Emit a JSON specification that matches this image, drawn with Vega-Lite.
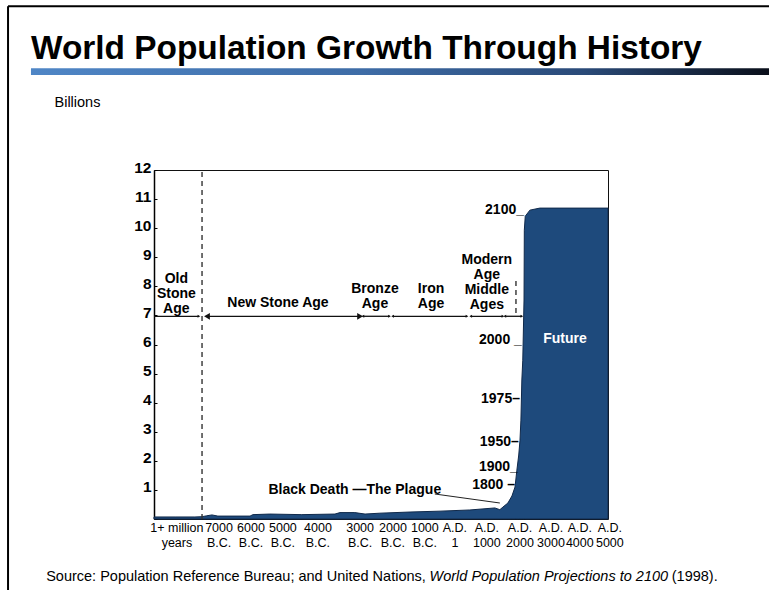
{
  "$schema": "https://vega.github.io/schema/vega-lite/v6.json",
  "width": 454,
  "height": 349,
  "autosize": {"type": "none"},
  "padding": {"left": 154, "top": 170, "right": 161, "bottom": 71},
  "background": "white",
  "title": {
    "text": "World Population Growth Through History",
    "anchor": "start",
    "frame": "group",
    "dx": -123,
    "offset": -87,
    "baseline": "alphabetic",
    "font": "Liberation Sans",
    "fontSize": 33.4,
    "fontWeight": "bold",
    "color": "#000000"
  },
  "config": {
    "view": {"stroke": "#111111", "strokeWidth": 1},
    "text": {"font": "Liberation Sans"},
    "axisY": {
      "tickCount": 12,
      "labelExpr": "datum.value == 0 ? '' : datum.label",
      "titleAngle": 0, "titleAlign": "left", "titleBaseline": "middle",
      "titleX": -100, "titleY": -68,
      "titleFont": "Liberation Sans", "titleFontSize": 14.5, "titleFontWeight": "normal", "titleColor": "#000000",
      "labelFont": "Liberation Sans", "labelFontSize": 15.5, "labelFontWeight": "bold", "labelColor": "#000000",
      "labelOverlap": false, "labelFlush": false, "labelBound": false,
      "labelPadding": 6, "labelBaseline": "middle", "labelOffset": -3,
      "tickSize": -3, "tickColor": "#000000",
      "domainColor": "#000000", "domainWidth": 1.5,
      "grid": false
    }
  },
  "datasets": {
    "population": [
      {"t": 0, "v": 0.07}, {"t": 0.68, "v": 0.07}, {"t": 1.32, "v": 0.07}, {"t": 1.55, "v": 0.08},
      {"t": 1.7, "v": 0.11}, {"t": 1.87, "v": 0.14}, {"t": 2.06, "v": 0.1}, {"t": 3.1, "v": 0.1},
      {"t": 3.19, "v": 0.15}, {"t": 3.74, "v": 0.17}, {"t": 4.77, "v": 0.15}, {"t": 5.84, "v": 0.17},
      {"t": 6.0, "v": 0.22}, {"t": 6.48, "v": 0.22}, {"t": 6.81, "v": 0.17}, {"t": 7.29, "v": 0.2},
      {"t": 8.26, "v": 0.24}, {"t": 9.23, "v": 0.27}, {"t": 10.19, "v": 0.31}, {"t": 11.0, "v": 0.38},
      {"t": 11.16, "v": 0.32}, {"t": 11.26, "v": 0.41}, {"t": 11.42, "v": 0.55}, {"t": 11.55, "v": 0.79},
      {"t": 11.65, "v": 1.1}, {"t": 11.71, "v": 1.68}, {"t": 11.77, "v": 2.2}, {"t": 11.81, "v": 2.71},
      {"t": 11.84, "v": 3.4}, {"t": 11.87, "v": 4.78}, {"t": 11.9, "v": 5.46}, {"t": 11.94, "v": 7.53},
      {"t": 11.95, "v": 9.93}, {"t": 11.98, "v": 10.41}, {"t": 12.13, "v": 10.62}, {"t": 12.45, "v": 10.69},
      {"t": 14.65, "v": 10.69}
    ],
    "eraTicks": [
      {"t": 0.74, "label": "1+ million\nyears"},
      {"t": 2.1, "label": "7000\nB.C."},
      {"t": 3.13, "label": "6000\nB.C."},
      {"t": 4.16, "label": "5000\nB.C."},
      {"t": 5.29, "label": "4000\nB.C."},
      {"t": 6.65, "label": "3000\nB.C."},
      {"t": 7.71, "label": "2000\nB.C."},
      {"t": 8.74, "label": "1000\nB.C."},
      {"t": 9.71, "label": "A.D.\n1"},
      {"t": 10.74, "label": "A.D.\n1000"},
      {"t": 11.81, "label": "A.D.\n2000"},
      {"t": 12.81, "label": "A.D.\n3000"},
      {"t": 13.74, "label": "A.D.\n4000"},
      {"t": 14.71, "label": "A.D.\n5000"}
    ],
    "ages": [
      {"age": "Old\nStone\nAge", "t": 0.72, "v": 8.24},
      {"age": "New Stone Age", "t": 4.0, "v": 7.42},
      {"age": "Bronze\nAge", "t": 7.13, "v": 7.9},
      {"age": "Iron\nAge", "t": 8.94, "v": 7.9},
      {"age": "Modern\nAge\nMiddle\nAges", "t": 10.74, "v": 8.92}
    ],
    "spans": [
      {"age": "Old Stone Age", "start": 0, "end": 1.45, "kind": "minor"},
      {"age": "New Stone Age", "start": 1.71, "end": 6.65, "kind": "major"},
      {"age": "Bronze Age", "start": 6.74, "end": 7.6, "kind": "minor"},
      {"age": "Iron Age", "start": 7.7, "end": 10.1, "kind": "minor"},
      {"age": "Middle Ages", "start": 10.22, "end": 11.26, "kind": "minor"},
      {"age": "Modern Age", "start": 11.32, "end": 11.87, "kind": "minor"}
    ],
    "dividers": [
      {"t": 1.55, "v0": 0, "v1": 12},
      {"t": 11.68, "v0": 7.08, "v1": 8.32}
    ],
    "years": [
      {"year": "2100_", "t": 11.94, "v": 10.62},
      {"year": "2000 _", "t": 11.87, "v": 6.15},
      {"year": "1975–", "t": 11.81, "v": 4.12},
      {"year": "1950–", "t": 11.77, "v": 2.65},
      {"year": "1900_", "t": 11.74, "v": 1.79},
      {"year": "1800 –", "t": 11.65, "v": 1.17}
    ]
  },
  "layer": [
    {
      "data": {"values": [{"t0": -3.97, "t1": 19.85, "v0": 15.27, "v1": 15.5}]},
      "mark": {
        "type": "rect",
        "fill": {
          "gradient": "linear",
          "x1": 0, "x2": 1, "y1": 0, "y2": 0,
          "stops": [
            {"offset": 0, "color": "#4f86c6"},
            {"offset": 0.45, "color": "#3e6ca6"},
            {"offset": 0.75, "color": "#2a4a78"},
            {"offset": 1, "color": "#0a0f1a"}
          ]
        }
      },
      "encoding": {
        "x": {"field": "t0", "type": "quantitative", "scale": {"domain": [0, 14.65], "nice": false, "zero": false}, "axis": null},
        "x2": {"field": "t1"},
        "y": {"field": "v0", "type": "quantitative", "scale": {"domain": [0, 12], "nice": false}, "title": "Billions"},
        "y2": {"field": "v1"}
      }
    },
    {
      "data": {"values": [
        {"t0": -4.71, "t1": -4.71, "v0": -3, "v1": 17.63},
        {"t0": -4.71, "t1": 20, "v0": 17.63, "v1": 17.63}
      ]},
      "mark": {"type": "rule", "color": "#000000", "strokeWidth": 2},
      "encoding": {
        "x": {"field": "t0", "type": "quantitative", "scale": {"domain": [0, 14.65], "nice": false, "zero": false}, "axis": null},
        "x2": {"field": "t1"},
        "y": {"field": "v0", "type": "quantitative", "scale": {"domain": [0, 12], "nice": false}, "title": "Billions"},
        "y2": {"field": "v1"}
      }
    },
    {
      "data": {"name": "population"},
      "mark": {"type": "area", "color": "#1e4a7c", "stroke": "#10294a", "strokeWidth": 1, "interpolate": "linear"},
      "encoding": {
        "x": {"field": "t", "type": "quantitative", "scale": {"domain": [0, 14.65], "nice": false, "zero": false}, "axis": null},
        "y": {"field": "v", "type": "quantitative", "scale": {"domain": [0, 12], "nice": false}, "title": "Billions"}
      }
    },
    {
      "data": {"name": "dividers"},
      "mark": {"type": "rule", "color": "#333333", "strokeWidth": 1.4, "strokeDash": [5, 4]},
      "encoding": {
        "x": {"field": "t", "type": "quantitative", "scale": {"domain": [0, 14.65], "nice": false, "zero": false}, "axis": null},
        "y": {"field": "v0", "type": "quantitative", "scale": {"domain": [0, 12], "nice": false}, "title": "Billions"},
        "y2": {"field": "v1"}
      }
    },
    {
      "data": {"name": "spans"},
      "mark": {"type": "rule", "color": "#111111", "strokeWidth": 1.3},
      "encoding": {
        "x": {"field": "start", "type": "quantitative", "scale": {"domain": [0, 14.65], "nice": false, "zero": false}, "axis": null},
        "x2": {"field": "end"},
        "y": {"datum": 6.97, "type": "quantitative", "scale": {"domain": [0, 12], "nice": false}, "title": "Billions"}
      }
    },
    {
      "data": {"name": "spans"},
      "mark": {"type": "point", "shape": "triangle-right", "filled": true, "color": "#111111", "opacity": 1},
      "encoding": {
        "x": {"field": "end", "type": "quantitative", "scale": {"domain": [0, 14.65], "nice": false, "zero": false}, "axis": null},
        "y": {"datum": 6.97, "type": "quantitative", "scale": {"domain": [0, 12], "nice": false}, "title": "Billions"},
        "size": {"field": "kind", "type": "nominal", "scale": {"domain": ["major", "minor"], "range": [45, 10]}, "legend": null}
      }
    },
    {
      "data": {"name": "spans"},
      "transform": [{"filter": "datum.start > 0"}],
      "mark": {"type": "point", "shape": "triangle-left", "filled": true, "color": "#111111", "opacity": 1},
      "encoding": {
        "x": {"field": "start", "type": "quantitative", "scale": {"domain": [0, 14.65], "nice": false, "zero": false}, "axis": null},
        "y": {"datum": 6.97, "type": "quantitative", "scale": {"domain": [0, 12], "nice": false}, "title": "Billions"},
        "size": {"field": "kind", "type": "nominal", "scale": {"domain": ["major", "minor"], "range": [45, 10]}, "legend": null}
      }
    },
    {
      "data": {"name": "ages"},
      "mark": {"type": "text", "fontSize": 14, "fontWeight": "bold", "color": "#000000", "align": "center", "baseline": "middle", "lineBreak": "\n", "lineHeight": 15},
      "encoding": {
        "x": {"field": "t", "type": "quantitative", "scale": {"domain": [0, 14.65], "nice": false, "zero": false}, "axis": null},
        "y": {"field": "v", "type": "quantitative", "scale": {"domain": [0, 12], "nice": false}, "title": "Billions"},
        "text": {"field": "age"}
      }
    },
    {
      "data": {"name": "years"},
      "mark": {"type": "text", "fontSize": 14, "fontWeight": "bold", "color": "#000000", "align": "right", "baseline": "middle"},
      "encoding": {
        "x": {"field": "t", "type": "quantitative", "scale": {"domain": [0, 14.65], "nice": false, "zero": false}, "axis": null},
        "y": {"field": "v", "type": "quantitative", "scale": {"domain": [0, 12], "nice": false}, "title": "Billions"},
        "text": {"field": "year"}
      }
    },
    {
      "data": {"values": [{"label": "Future", "t": 13.26, "v": 6.19}]},
      "mark": {"type": "text", "fontSize": 14, "fontWeight": "bold", "color": "#ffffff", "align": "center", "baseline": "middle"},
      "encoding": {
        "x": {"field": "t", "type": "quantitative", "scale": {"domain": [0, 14.65], "nice": false, "zero": false}, "axis": null},
        "y": {"field": "v", "type": "quantitative", "scale": {"domain": [0, 12], "nice": false}, "title": "Billions"},
        "text": {"field": "label"}
      }
    },
    {
      "data": {"values": [{"label": "Black Death —The Plague", "t": 6.48, "v": 0.99}]},
      "mark": {"type": "text", "fontSize": 14, "fontWeight": "bold", "color": "#000000", "align": "center", "baseline": "middle"},
      "encoding": {
        "x": {"field": "t", "type": "quantitative", "scale": {"domain": [0, 14.65], "nice": false, "zero": false}, "axis": null},
        "y": {"field": "v", "type": "quantitative", "scale": {"domain": [0, 12], "nice": false}, "title": "Billions"},
        "text": {"field": "label"}
      }
    },
    {
      "data": {"values": [{"t0": 9.06, "t1": 11.16, "v0": 0.86, "v1": 0.55}]},
      "mark": {"type": "rule", "color": "#222222", "strokeWidth": 1},
      "encoding": {
        "x": {"field": "t0", "type": "quantitative", "scale": {"domain": [0, 14.65], "nice": false, "zero": false}, "axis": null},
        "x2": {"field": "t1"},
        "y": {"field": "v0", "type": "quantitative", "scale": {"domain": [0, 12], "nice": false}, "title": "Billions"},
        "y2": {"field": "v1"}
      }
    },
    {
      "data": {"name": "eraTicks"},
      "mark": {"type": "text", "fontSize": 12.5, "color": "#000000", "align": "center", "baseline": "top", "lineBreak": "\n", "lineHeight": 15.5},
      "encoding": {
        "x": {"field": "t", "type": "quantitative", "scale": {"domain": [0, 14.65], "nice": false, "zero": false}, "axis": null},
        "y": {"datum": -0.1, "type": "quantitative", "scale": {"domain": [0, 12], "nice": false}, "title": "Billions"},
        "text": {"field": "label"}
      }
    },
    {
      "data": {"values": [
        {"part": "Source: Population Reference Bureau; and United Nations, ", "t": -3.48}
      ]},
      "mark": {"type": "text", "fontSize": 14.5, "color": "#000000", "align": "left", "baseline": "middle"},
      "encoding": {
        "x": {"field": "t", "type": "quantitative", "scale": {"domain": [0, 14.65], "nice": false, "zero": false}, "axis": null},
        "y": {"datum": -1.99, "type": "quantitative", "scale": {"domain": [0, 12], "nice": false}, "title": "Billions"},
        "text": {"field": "part"}
      }
    },
    {
      "data": {"values": [
        {"part": "World Population Projections to 2100", "t": 8.89}
      ]},
      "mark": {"type": "text", "fontSize": 14.5, "fontStyle": "italic", "color": "#000000", "align": "left", "baseline": "middle"},
      "encoding": {
        "x": {"field": "t", "type": "quantitative", "scale": {"domain": [0, 14.65], "nice": false, "zero": false}, "axis": null},
        "y": {"datum": -1.99, "type": "quantitative", "scale": {"domain": [0, 12], "nice": false}, "title": "Billions"},
        "text": {"field": "part"}
      }
    },
    {
      "data": {"values": [
        {"part": " (1998).", "t": 18.19}
      ]},
      "mark": {"type": "text", "fontSize": 14.5, "color": "#000000", "align": "right", "baseline": "middle"},
      "encoding": {
        "x": {"field": "t", "type": "quantitative", "scale": {"domain": [0, 14.65], "nice": false, "zero": false}, "axis": null},
        "y": {"datum": -1.99, "type": "quantitative", "scale": {"domain": [0, 12], "nice": false}, "title": "Billions"},
        "text": {"field": "part"}
      }
    }
  ]
}
